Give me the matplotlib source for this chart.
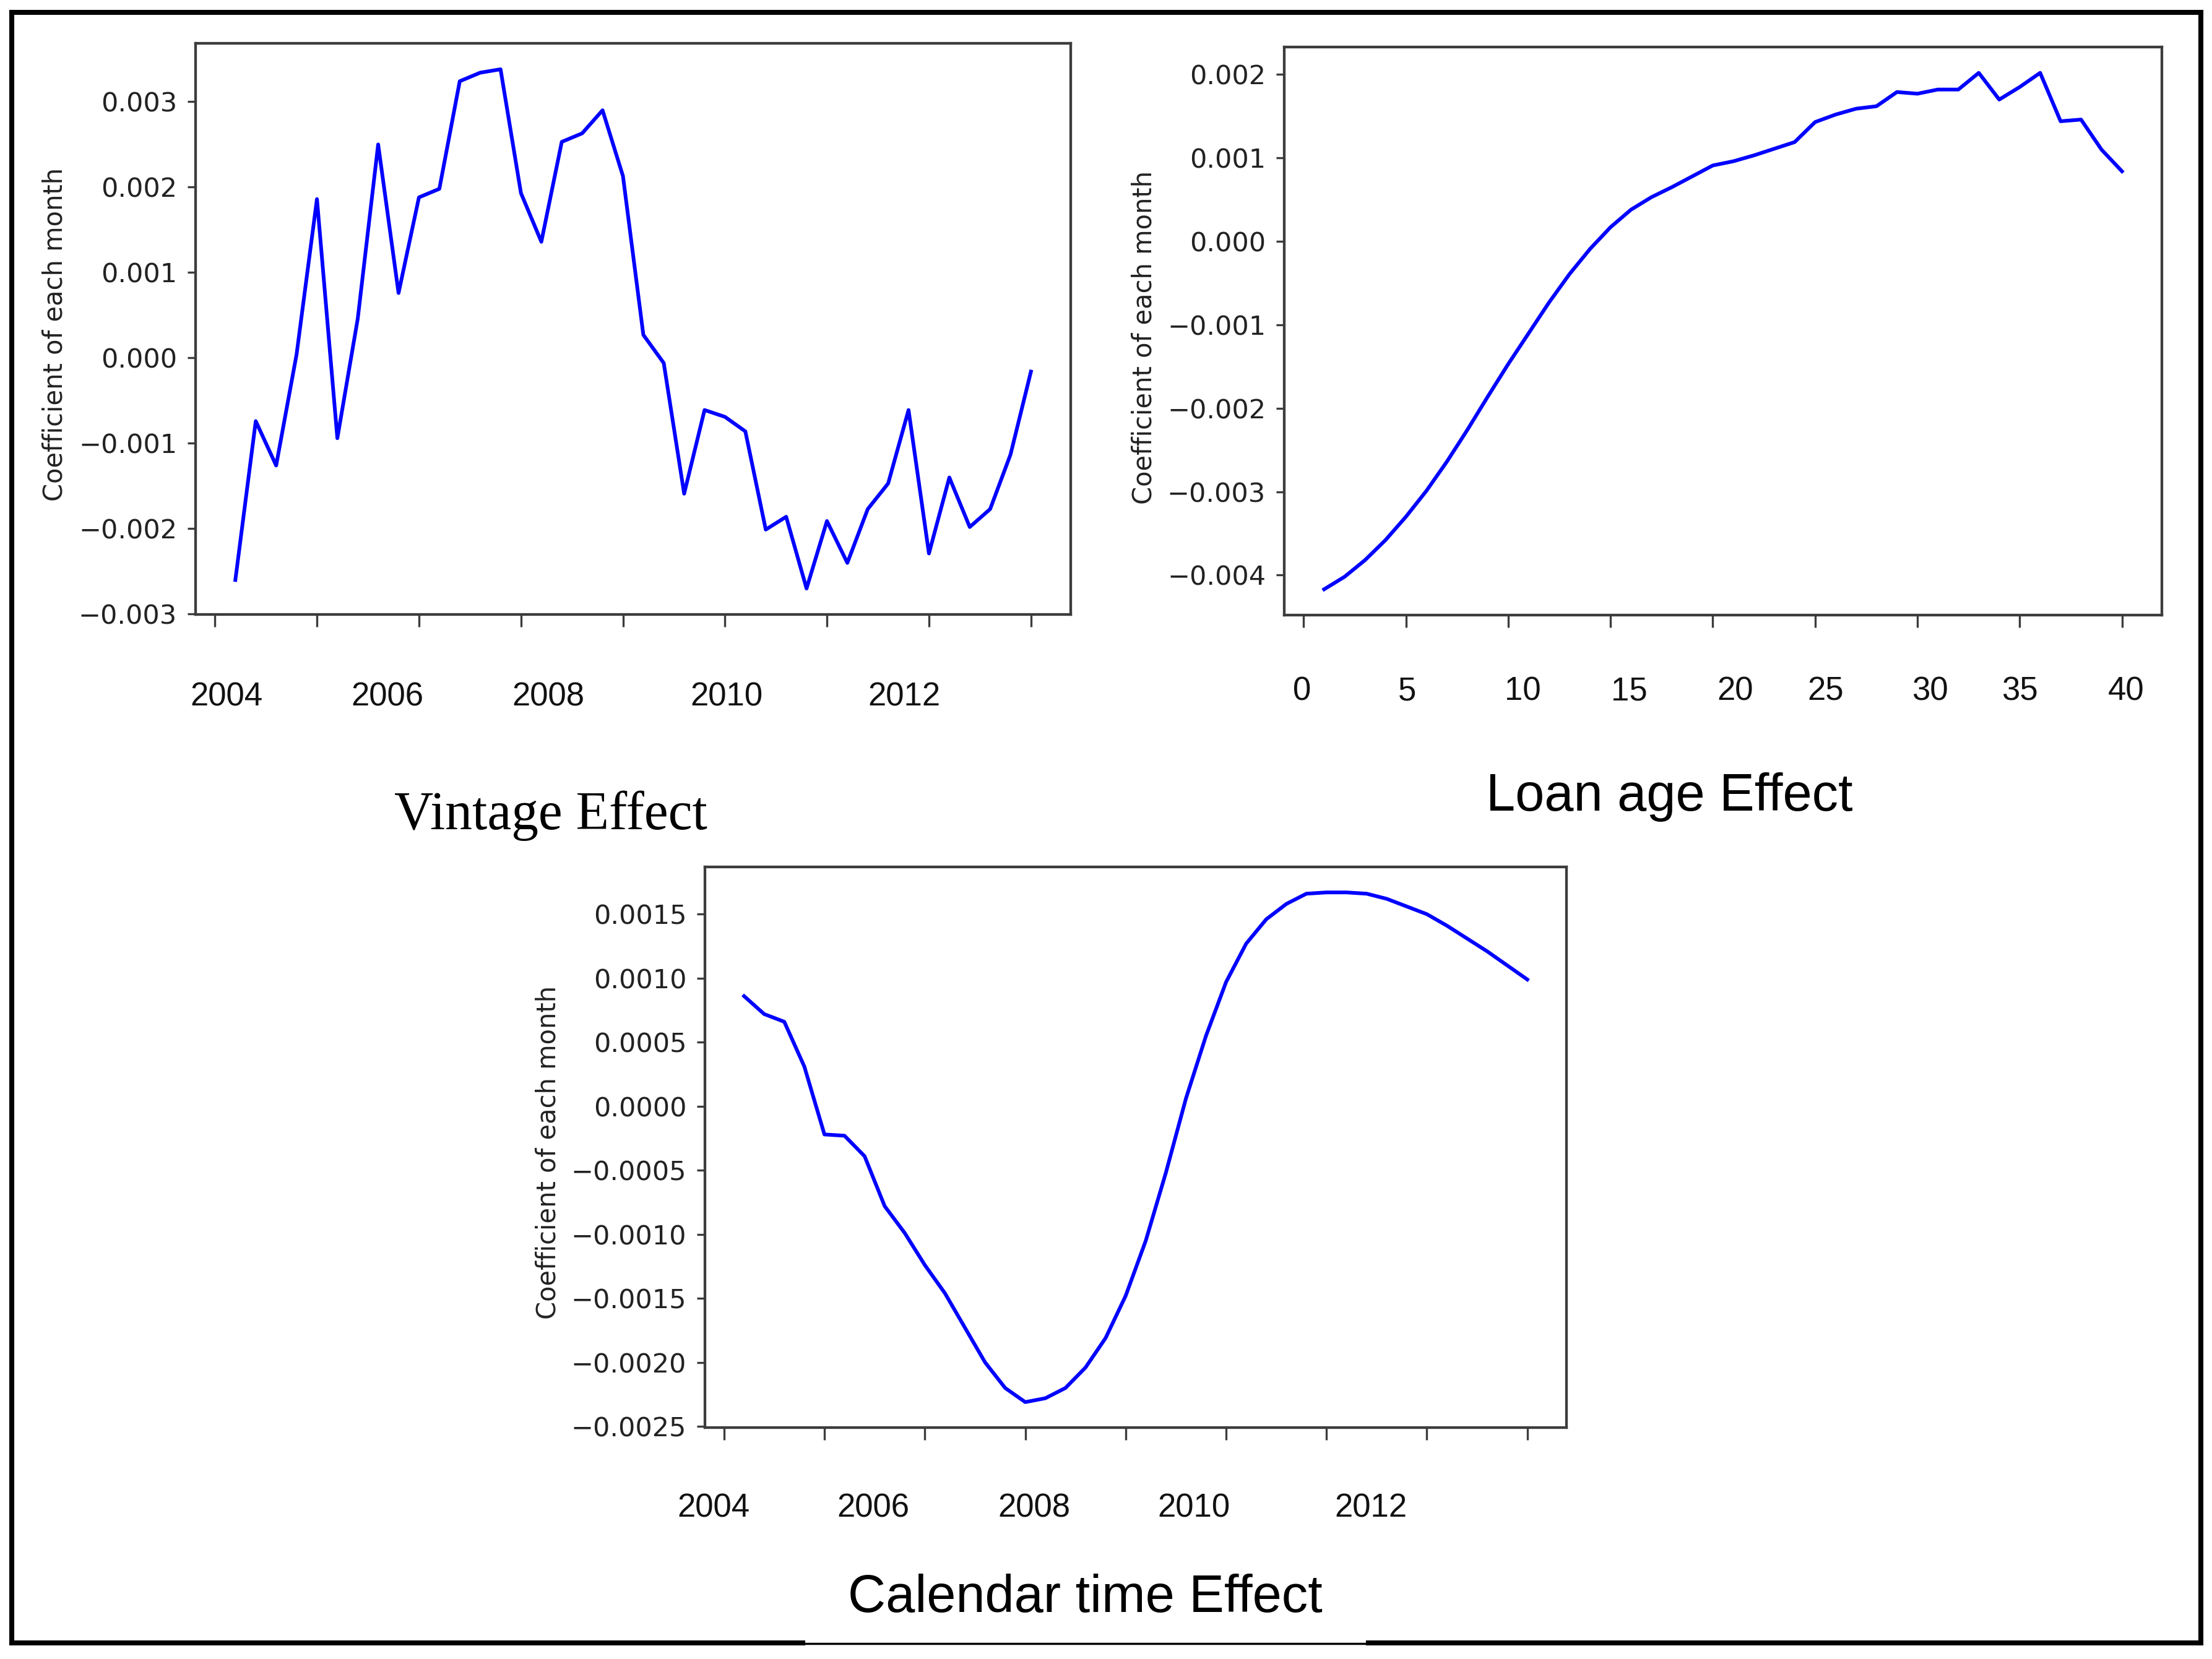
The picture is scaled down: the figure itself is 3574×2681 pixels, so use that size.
import matplotlib
matplotlib.use("Agg")
import matplotlib.pyplot as plt
from matplotlib import transforms
from matplotlib.lines import Line2D
from matplotlib.ticker import MultipleLocator

# quarterly index 1..40 for all three panels
periods = list(range(1, 41))

vintage = [-0.00260, -0.00074, -0.00126, 0.00004, 0.00186, -0.00094, 0.00046, 0.00250,
           0.00076, 0.00188, 0.00198, 0.00324, 0.00334, 0.00338, 0.00193, 0.00136,
           0.00253, 0.00263, 0.00290, 0.00213, 0.00027, -0.00006, -0.00159, -0.00061,
           -0.00069, -0.00086, -0.00201, -0.00186, -0.00270, -0.00191, -0.00240, -0.00177,
           -0.00147, -0.00061, -0.00229, -0.00140, -0.00198, -0.00177, -0.00113, -0.00016]

loan_age = [-0.00417, -0.00402, -0.00382, -0.00358, -0.00330, -0.00299, -0.00264, -0.00226,
            -0.00186, -0.00147, -0.00110, -0.00073, -0.00039, -0.00009, 0.00017, 0.00038,
            0.00053, 0.00065, 0.00078, 0.00091, 0.00096, 0.00103, 0.00111, 0.00119,
            0.00143, 0.00152, 0.00159, 0.00162, 0.00179, 0.00177, 0.00182, 0.00182,
            0.00202, 0.00170, 0.00185, 0.00202, 0.00144, 0.00146, 0.00110, 0.00084]

calendar = [0.00086, 0.00072, 0.00066, 0.00031, -0.00022, -0.00023, -0.00039, -0.00078,
            -0.00099, -0.00124, -0.00146, -0.00173, -0.00200, -0.00220, -0.00231, -0.00228,
            -0.00220, -0.00204, -0.00181, -0.00148, -0.00105, -0.00052, 0.00006, 0.00055,
            0.00097, 0.00127, 0.00146, 0.00158, 0.00166, 0.00167, 0.00167, 0.00166,
            0.00162, 0.00156, 0.00150, 0.00141, 0.00131, 0.00121, 0.00110, 0.00099]

years = ["2004", "2006", "2008", "2010", "2012"]
age_labels = ["0", "5", "10", "15", "20", "25", "30", "35", "40"]

# the bottom labels were pasted on by hand, so they do not sit on the ticks
vintage_year_x = [0.58, 8.45, 16.35, 25.08, 33.8]
calendar_year_x = [-0.53, 7.42, 15.44, 23.4, 32.2]
age_label_x = [-0.09, 5.05, 10.7, 15.9, 21.1, 25.5, 30.6, 35.0, 40.2]

W, H = 3574, 2681
SPINE = "#3c3c3c"


def box(left, top, right, bottom):
    return [left / W, 1 - bottom / H, (right - left) / W, (bottom - top) / H]


def panel(fig, rect, y, ystep, labels, label_x, label_y, ylab_xy):
    ax = fig.add_axes(rect)
    ax.plot(periods, y, color="#0000ff", lw=4.3)
    ax.set_xticks(range(0, 41, 5))
    ax.set_xticklabels([])
    ax.yaxis.set_major_locator(MultipleLocator(ystep))
    ax.tick_params(axis="y", length=9.5, width=2.4, color=SPINE, pad=12,
                   labelsize=31, labelcolor="#222222")
    ax.tick_params(axis="x", length=14.5, width=2.4, color=SPINE)
    for s in ax.spines.values():
        s.set_linewidth(3.1)
        s.set_color(SPINE)
    ax.set_ylabel("Coefficient of each month", fontsize=30, color="#222222")
    ax.yaxis.set_label_coords(*ylab_xy)
    trans = transforms.blended_transform_factory(ax.transData, ax.transAxes)
    for lab, xp in zip(labels, label_x):
        ax.text(xp, label_y, lab, transform=trans, ha="center", va="center",
                fontsize=38, family="Liberation Sans", color="#111111")
    return ax


fig = plt.figure(figsize=(W / 100, H / 100), dpi=100)

panel(fig, box(316, 70, 1730, 993), vintage, 0.001, years, vintage_year_x, -0.145, (-0.146, 0.49))
panel(fig, box(2075, 76, 3493, 994), loan_age, 0.001, age_labels, age_label_x, -0.135, (-0.1446, 0.489))
panel(fig, box(1139, 1401, 2531, 2307), calendar, 0.0005, years, calendar_year_x, -0.1435, (-0.167, 0.491))

fig.text(890 / W, 1 - 1318 / H, "Vintage Effect", ha="center", va="center",
         fontsize=63, family="Liberation Serif")
fig.text(2697 / W, 1 - 1288 / H, "Loan age Effect", ha="center", va="center",
         fontsize=61, family="Liberation Sans")
fig.text(1753 / W, 1 - 2583 / H, "Calendar time Effect", ha="center", va="center",
         fontsize=61, family="Liberation Sans")

# black frame around the whole composite
def frame_line(x0, y0, x1, y1, lw):
    fig.add_artist(Line2D([x0 / W, x1 / W], [1 - y0 / H, 1 - y1 / H],
                          transform=fig.transFigure, color="black", lw=lw,
                          solid_capstyle="projecting"))

frame_line(19, 20, 3556, 20, 5.8)
frame_line(19, 20, 19, 2655, 5.8)
frame_line(3556, 20, 3556, 2655, 5.8)
frame_line(19, 2655, 1297, 2655, 5.8)
frame_line(2211, 2655, 3556, 2655, 5.8)
frame_line(1297, 2656, 2211, 2656, 2.5)

fig.savefig("out.png", dpi=100, facecolor="white")
